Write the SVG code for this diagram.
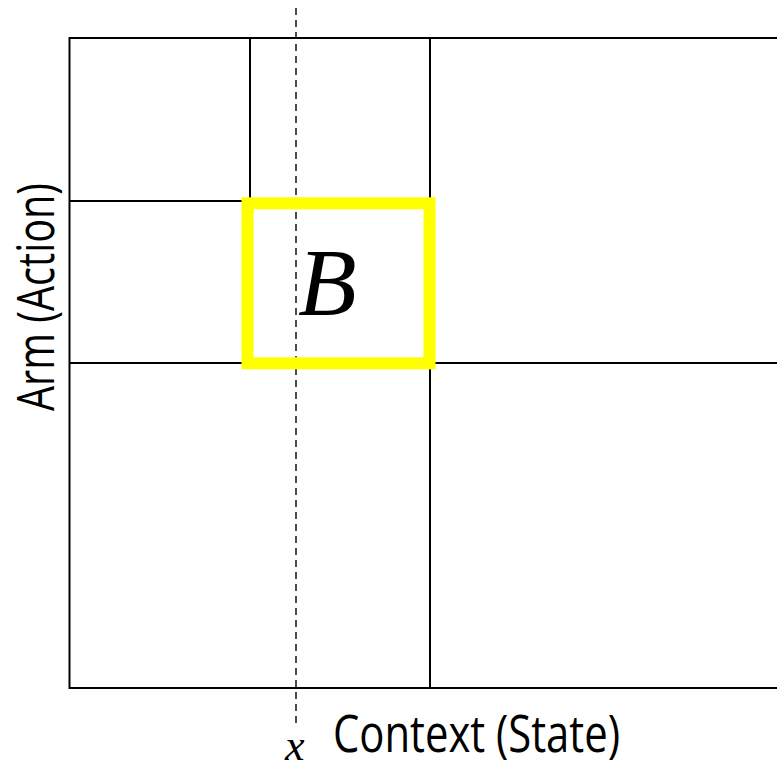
<svg xmlns="http://www.w3.org/2000/svg" width="777" height="771" viewBox="0 0 777 771">
<style>
.ln{stroke:#000;stroke-width:2;fill:none}
.lbl{font-family:"Open Sans","Liberation Sans",sans-serif;font-size:51px;fill:#000}
.math{font-family:"Liberation Serif","DejaVu Serif",serif;font-style:italic;fill:#000}
</style>
<rect width="777" height="771" fill="#fff"/>
<g id="grid">
<path class="ln" d="M778,38 H69.5 V688 H778"/>
<path class="ln" d="M250,38 V201 M69.5,201 H250 M430,38 V688 M69.5,363 H778"/>
</g>
<g id="connectors">
<line x1="296" y1="8" x2="296" y2="724" stroke="#000" stroke-width="1.4" stroke-dasharray="7,5"/>
</g>
<g id="nodeB">
<rect x="247.5" y="203.3" width="182" height="160" fill="none" stroke="#ffff00" stroke-width="12"/>
<text class="math" x="298" y="315" font-size="96">B</text>
</g>
<g id="labels">
<text class="lbl" x="333" y="752" textLength="287" lengthAdjust="spacingAndGlyphs">Context (State)</text>
<text class="lbl" transform="translate(54,411) rotate(-90)" x="0" y="0" font-size="48" textLength="228" lengthAdjust="spacingAndGlyphs">Arm (Action)</text>
<text class="math" x="285" y="760" font-size="44">x</text>
</g>
</svg>
